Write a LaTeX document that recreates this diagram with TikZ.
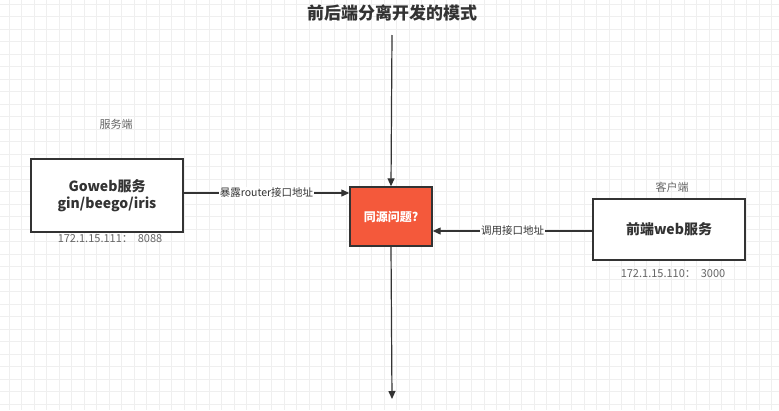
\documentclass[tikz,border=0pt]{standalone}
\usepackage{fontspec}
\setmainfont{Noto Sans CJK SC}
\usetikzlibrary{arrows.meta}
\definecolor{gridc}{HTML}{EFEFEF}
\definecolor{linec}{HTML}{333333}
\definecolor{txt}{HTML}{333333}
\definecolor{sub}{HTML}{666666}
\definecolor{redbox}{HTML}{F4593B}
\begin{document}
\begin{tikzpicture}[x=1pt,y=-1pt,
  box/.style={draw=linec,line width=1.4pt,fill=white,text=txt,font=\fontsize{14}{17}\selectfont\bfseries,align=center,inner sep=0pt},
  lbl/.style={text=sub,font=\fontsize{11}{13}\selectfont,inner sep=1pt},
  elbl/.style={text=txt,font=\fontsize{10.5}{12}\selectfont,fill=white,inner sep=1pt},
  conn/.style={draw=linec,line width=1.2pt,-{Triangle[length=8pt,width=7pt]}}]
\useasboundingbox (0,0) rectangle (779,410);
\fill[white] (0,0) rectangle (779,410);
\foreach \i in {0,...,63} {\draw[gridc,line width=0.5pt] (9+\i*12.5,0) -- (9+\i*12.5,410);}
\foreach \j in {0,...,33} {\draw[gridc,line width=0.5pt] (0,4+\j*12.5) -- (779,4+\j*12.5);}
\node[text=txt,font=\fontsize{17}{20}\selectfont\bfseries] (title) at (392,13) {前后端分离开发的模式};
\coordinate (top) at (392,35);
\coordinate (bot) at (392,399);
\node[draw=linec,line width=1.4pt,fill=redbox,text=white,font=\fontsize{12}{14}\selectfont\bfseries,minimum width=82pt,minimum height=59pt,inner sep=0pt] (mid) at (391,216.5) {同源问题?};
\node[box,minimum width=152pt,minimum height=73pt] (go) at (107,195.5) {Goweb服务\\gin/beego/iris};
\node[box,minimum width=152pt,minimum height=61pt] (web) at (669,229.5) {前端web服务};
\node[lbl] (srv) at (116,124) {服务端};
\node[lbl] (cli) at (672,187) {客户端};
\node[lbl] (ip1) at (110,239) {172.1.15.111：\ \ 8088};
\node[lbl] (ip2) at (673,274) {172.1.15.110：\ \ 3000};
\draw[conn] (top) -- (mid.north);
\draw[conn] (mid.south) -- (bot);
\draw[conn] (go.east |- 0,193) -- node[elbl] {暴露router接口地址} (mid.west |- 0,193);
\draw[conn] (web.west |- 0,231) -- node[elbl] {调用接口地址} (mid.east |- 0,231);
\end{tikzpicture}
\end{document}
